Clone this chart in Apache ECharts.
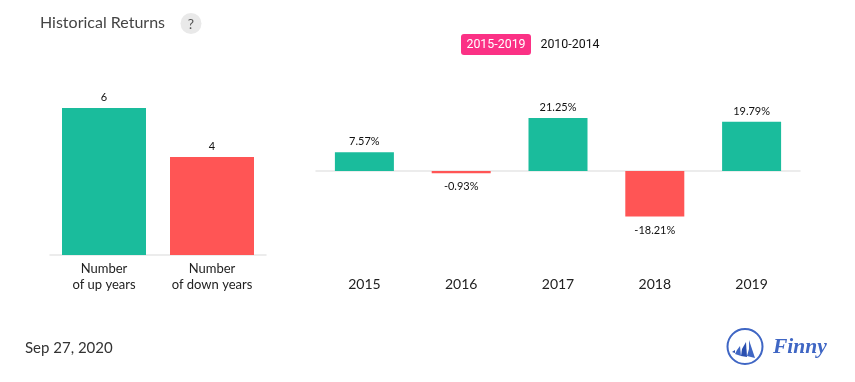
<!DOCTYPE html>
<html><head><meta charset="utf-8">
<style>html,body{margin:0;padding:0;background:#fff}#c{width:855px;height:382px}</style>
<script src="https://cdn.jsdelivr.net/npm/echarts@6/dist/echarts.min.js"></script>
</head><body><div id="c"></div>
<script>
const countCategories = ['Number\nof up years', 'Number\nof down years'];
const countValues = [6, 4];
const years = ['2015', '2016', '2017', '2018', '2019'];
const returns = [7.57, -0.93, 21.25, -18.21, 19.79];
const GREEN = '#1abc9c', RED = '#ff5555', AXIS = '#e6e6e6', FONT = 'Lato';
const chart = echarts.init(document.getElementById('c'), null, {renderer: 'canvas'});
chart.setOption({
  animation: false,
  textStyle: {fontFamily: FONT},
  grid: [
    {left: 50, top: 108, width: 216, height: 147},
    {left: 316, top: 118, width: 484, height: 98.5}
  ],
  xAxis: [
    {gridIndex: 0, type: 'category', data: countCategories,
     axisLine: {lineStyle: {color: AXIS, width: 1.5}}, axisTick: {show: false},
     axisLabel: {color: '#222', fontSize: 13, lineHeight: 16, margin: 6, fontFamily: FONT, interval: 0}},
    {gridIndex: 1, type: 'category', data: years, position: 'bottom',
     axisLine: {show: false, onZero: false}, axisTick: {show: false},
     axisLabel: {color: '#222', fontSize: 14, margin: 60.5, fontFamily: FONT}},
    {gridIndex: 1, type: 'category', data: years,
     axisLine: {show: true, onZero: true, lineStyle: {color: AXIS, width: 1.5}},
     axisTick: {show: false}, axisLabel: {show: false}}
  ],
  yAxis: [
    {gridIndex: 0, type: 'value', min: 0, max: 6, show: false},
    {gridIndex: 1, type: 'value', min: -18.21, max: 21.25, show: false},
  ],
  series: [
    {type: 'bar', xAxisIndex: 0, yAxisIndex: 0, barWidth: 84,
     data: countValues.map((v, i) => ({value: v, itemStyle: {color: i === 0 ? GREEN : RED}})),
     label: {show: true, position: 'top', distance: 5, color: '#111', fontSize: 11, fontFamily: FONT}},
    {type: 'bar', xAxisIndex: 1, yAxisIndex: 1, barWidth: 59,
     data: returns.map(v => ({value: v, itemStyle: {color: v >= 0 ? GREEN : RED},
       label: {distance: v >= 0 ? 5 : 8}})),
     label: {show: true, position: 'outside', color: '#111', fontSize: 11, fontFamily: FONT,
       formatter: p => p.value.toFixed(2) + '%'}}
  ],
  graphic: [
    {type: 'text', x: 40, y: 22.5, style: {text: 'Historical Returns', font: '16px Lato', fill: '#444', verticalAlign: 'middle'}},
    {type: 'circle', shape: {cx: 191, cy: 23.5, r: 10.5}, style: {fill: '#e9e9e9'}},
    {type: 'text', x: 191, y: 24, style: {text: '?', font: '14px Lato', fill: '#555', align: 'center', verticalAlign: 'middle'}},
    {type: 'rect', shape: {x: 461, y: 34, width: 70, height: 21, r: 3}, style: {fill: '#fb3185'}},
    {type: 'text', x: 496, y: 45, style: {text: '2015-2019', font: '12.4px Roboto', fill: '#fff', align: 'center', verticalAlign: 'middle'}},
    {type: 'text', x: 570, y: 45, style: {text: '2010-2014', font: '12.4px Roboto', fill: '#111', align: 'center', verticalAlign: 'middle'}},
    {type: 'text', x: 25, y: 348, style: {text: 'Sep 27, 2020', font: '15px Lato', fill: '#333', verticalAlign: 'middle'}},
    {type: 'circle', shape: {cx: 745, cy: 346.5, r: 17.5}, style: {fill: 'none', stroke: '#3f66c4', lineWidth: 2}},
    {type: 'polygon', shape: {points: [[749,340],[755,358],[747,356],[749,349]]}, style: {fill: '#3f66c4'}},
    {type: 'polygon', shape: {points: [[746,342],[747,357],[741,356],[742,349]]}, style: {fill: '#2a4fb0'}},
    {type: 'polygon', shape: {points: [[740,346],[741,356],[735,354],[737,350]]}, style: {fill: '#3f66c4'}},
    {type: 'polygon', shape: {points: [[735,350],[735,353],[732,352]]}, style: {fill: '#2a4fb0'}},
    {type: 'text', x: 773, y: 347, style: {text: 'Finny', font: 'italic bold 21.5px "Liberation Serif"', fill: '#3f66c4', align: 'left', verticalAlign: 'middle'}}
  ]
});
</script></body></html>
